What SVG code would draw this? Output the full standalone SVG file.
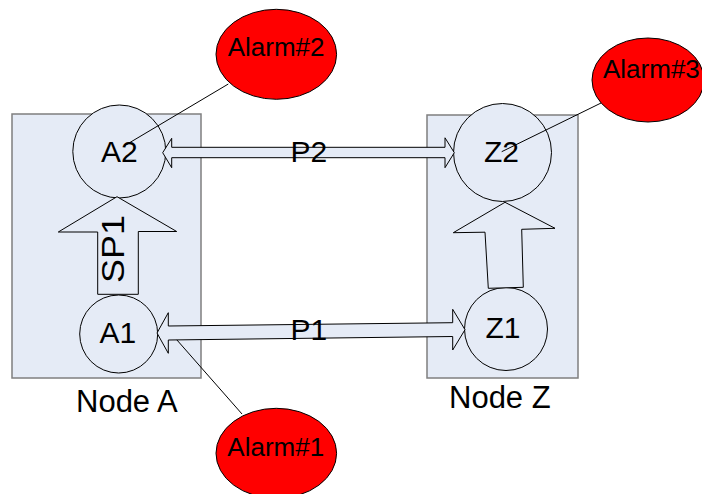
<svg xmlns="http://www.w3.org/2000/svg" width="702" height="494" viewBox="0 0 702 494">
<style>
text{font-family:"Liberation Sans",Arial,sans-serif;fill:#000}
.box{fill:#E5EBF6;stroke:#7F7F7F;stroke-width:1.5}
.c{fill:#E5EBF6;stroke:#000;stroke-width:1}
.arr{fill:#E5EBF6;stroke:#000;stroke-width:1;stroke-linejoin:miter}
.alarm{fill:#FF0000;stroke:#000;stroke-width:1}
.ln{stroke:#000;stroke-width:1;fill:none}
.big{font-size:30px}
.lbl{font-size:31px}
.al{font-size:26px}
</style>
<rect width="702" height="494" fill="#fff"/>
<g id="nodeA">
<rect class="box" x="12" y="114" width="189" height="264"/>
<text class="lbl" x="76" y="412">Node A</text>
</g>
<g id="nodeZ">
<rect class="box" x="427" y="115" width="151" height="263"/>
<text class="lbl" x="449" y="408">Node Z</text>
</g>
<g id="connectors-under">
<line class="ln" x1="162" y1="323" x2="242" y2="414"/>
</g>
<g id="A2">
<circle class="c" cx="119.3" cy="151.5" r="46.5"/>
<text class="big" x="101" y="161.7">A2</text>
</g>
<g id="A1">
<circle class="c" cx="118.7" cy="334" r="39"/>
<text class="big" x="99.5" y="342.5">A1</text>
</g>
<g id="Z2">
<circle class="c" cx="502.5" cy="152.5" r="49"/>
<text class="big" x="484" y="161.7">Z2</text>
</g>
<g id="Z1">
<circle class="c" cx="506" cy="329" r="41.5"/>
<text class="big" x="485.5" y="338">Z1</text>
</g>
<g id="connectors">
<polygon id="SP1" class="arr" points="117,196.7 176.7,231.5 138.3,231.5 138.3,294.3 97.7,294.3 97.7,232 58.3,232"/>
<text class="big" style="font-size:31px" transform="translate(124.3,249) rotate(-90)" text-anchor="middle" textLength="68" lengthAdjust="spacingAndGlyphs">SP1</text>
<polygon id="Zsp" class="arr" points="505,202.3 555,228.3 521.7,229.3 523.3,287.3 488.3,288.3 485,232.2 453.3,232.7"/>
<polygon id="P2" class="arr" points="162.7,152.7 171.7,138.3 171.7,147.3 445,147.3 445,137.8 454.3,152.7 445,167.7 445,157.7 171.7,157.7 171.7,167.7"/>
<text class="big" x="290.4" y="161.7">P2</text>
<polygon id="P1" class="arr" points="157,333 168.3,312.7 168.3,326 452.7,322.7 452.7,309.3 465,329.7 452.7,350 452.7,336.5 168.3,340 168.3,353.3"/>
<text class="big" x="290.4" y="340">P1</text>
<line class="ln" x1="228.3" y1="84" x2="124" y2="146"/>
<line class="ln" x1="601.7" y1="102.7" x2="501.7" y2="151.7"/>
</g>
<g id="alarm2">
<ellipse class="alarm" cx="276.3" cy="54.3" rx="60.3" ry="45"/>
<text class="al" x="227.7" y="56">Alarm#2</text>
</g>
<g id="alarm3">
<ellipse class="alarm" cx="648" cy="80" rx="56" ry="42"/>
<text class="al" x="603" y="78">Alarm#3</text>
</g>
<g id="alarm1">
<ellipse class="alarm" cx="276.3" cy="453.3" rx="60.3" ry="45"/>
<text class="al" x="227.3" y="456">Alarm#1</text>
</g>
</svg>
